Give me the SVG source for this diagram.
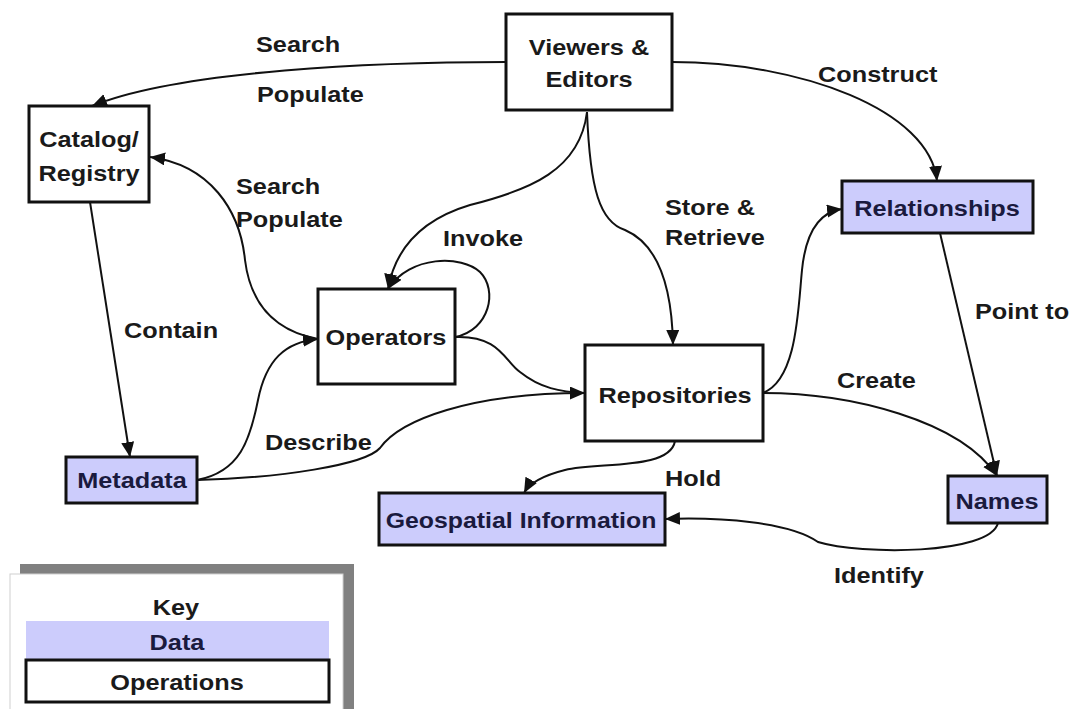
<svg xmlns="http://www.w3.org/2000/svg" width="1073" height="709" viewBox="0 0 1073 709">
<defs>
<style>
.op{fill:#ffffff;stroke:#111;stroke-width:3}
.da{fill:#ccccfc;stroke:#111;stroke-width:3}
.t{font-family:"Liberation Sans",Arial,sans-serif;font-weight:bold;font-size:22px;fill:#1a1a1a}
.tc{text-anchor:middle}
.td{fill:#1a1a3e}
.c{fill:none;stroke:#111;stroke-width:2}
</style>
<marker id="ah" markerUnits="userSpaceOnUse" markerWidth="16" markerHeight="14" refX="15" refY="6.5" orient="auto">
<path d="M0,0 L15,6.5 L0,13 z" fill="#111"/>
</marker>
</defs>
<rect width="1073" height="709" fill="#ffffff"/>

<g id="connectors">
<path class="c" d="M506,62 C380,62 180,70 92,106" marker-end="url(#ah)"/>
<path class="c" d="M672,62 C800,62 930,110 937,181" marker-end="url(#ah)"/>
<path class="c" d="M587,112 C580,170 530,190 470,205 C420,220 395,250 388,289" marker-end="url(#ah)"/>
<path class="c" d="M587,112 C590,190 600,222 625,230 C660,245 672,290 673,345" marker-end="url(#ah)"/>
<path class="c" d="M455,337 C490,330 498,290 480,272 C462,255 410,255 388,289" marker-end="url(#ah)"/>
<path class="c" d="M318,339 C270,330 250,300 245,260 C240,210 210,165 150,157" marker-end="url(#ah)"/>
<path class="c" d="M90,202 L130,457" marker-end="url(#ah)"/>
<path class="c" d="M197,480 C240,472 250,440 258,400 C266,360 285,342 318,339" marker-end="url(#ah)"/>
<path class="c" d="M197,480 C280,478 365,465 380,448 C400,420 470,393 585,393" marker-end="url(#ah)"/>
<path class="c" d="M455,337 C500,335 505,362 520,372 C540,388 560,392 585,393"/>
<path class="c" d="M763,393 C797,380 798,310 802,270 C806,230 820,212 842,209" marker-end="url(#ah)"/>
<path class="c" d="M763,393 C850,393 960,420 997,476" marker-end="url(#ah)"/>
<path class="c" d="M940,233 L997,476" marker-end="url(#ah)"/>
<path class="c" d="M675,441 C670,470 600,462 565,470 C545,475 530,482 524,493" marker-end="url(#ah)"/>
<path class="c" d="M998,523 C990,555 860,555 818,542 C790,522 720,517 665,519" marker-end="url(#ah)"/>
</g>

<g id="labels">
<text class="t" transform="translate(256,52) scale(1.15,1)">Search</text>
<text class="t" transform="translate(257,102) scale(1.15,1)">Populate</text>
<text class="t" transform="translate(818,82) scale(1.15,1)">Construct</text>
<text class="t" transform="translate(236,194) scale(1.15,1)">Search</text>
<text class="t" transform="translate(236,227) scale(1.15,1)">Populate</text>
<text class="t" transform="translate(443,246) scale(1.15,1)">Invoke</text>
<text class="t" transform="translate(665,215) scale(1.15,1)">Store &amp;</text>
<text class="t" transform="translate(665,245) scale(1.15,1)">Retrieve</text>
<text class="t" transform="translate(124,338) scale(1.15,1)">Contain</text>
<text class="t" transform="translate(975,319) scale(1.15,1)">Point to</text>
<text class="t" transform="translate(837,388) scale(1.15,1)">Create</text>
<text class="t" transform="translate(265,450) scale(1.15,1)">Describe</text>
<text class="t" transform="translate(665,486) scale(1.15,1)">Hold</text>
<text class="t" transform="translate(834,583) scale(1.15,1)">Identify</text>
</g>

<g id="viewers">
<rect class="op" x="506" y="14" width="166" height="96"/>
<text class="t tc" transform="translate(589,55) scale(1.15,1)">Viewers &amp;</text>
<text class="t tc" transform="translate(589,87) scale(1.15,1)">Editors</text>
</g>
<g id="catalog">
<rect class="op" x="29" y="106" width="120" height="96"/>
<text class="t tc" transform="translate(89,147) scale(1.15,1)">Catalog/</text>
<text class="t tc" transform="translate(89,181) scale(1.15,1)">Registry</text>
</g>
<g id="relationships">
<rect class="da" x="842" y="181" width="191" height="52"/>
<text class="t tc td" transform="translate(937,216) scale(1.15,1)">Relationships</text>
</g>
<g id="operators">
<rect class="op" x="318" y="289" width="137" height="95"/>
<text class="t tc" transform="translate(386,345) scale(1.15,1)">Operators</text>
</g>
<g id="repositories">
<rect class="op" x="585" y="345" width="178" height="96"/>
<text class="t tc" transform="translate(675,403) scale(1.15,1)">Repositories</text>
</g>
<g id="metadata">
<rect class="da" x="66" y="457" width="131" height="46"/>
<text class="t tc td" transform="translate(132,488) scale(1.15,1)">Metadata</text>
</g>
<g id="geospatial">
<rect class="da" x="379" y="493" width="286" height="52"/>
<text class="t tc td" transform="translate(521,528) scale(1.13,1)">Geospatial Information</text>
</g>
<g id="names">
<rect class="da" x="948" y="476" width="99" height="47"/>
<text class="t tc td" transform="translate(997,509) scale(1.15,1)">Names</text>
</g>

<g id="key">
<rect x="20" y="564" width="334" height="150" fill="#808080"/>
<rect x="10" y="574" width="333" height="140" fill="#ffffff" stroke="#d0d0d0" stroke-width="1"/>
<text class="t tc" transform="translate(176,615) scale(1.15,1)">Key</text>
<rect x="26" y="621" width="303" height="39" fill="#ccccfc"/>
<text class="t tc td" transform="translate(177,650) scale(1.15,1)">Data</text>
<rect class="op" x="26" y="660" width="303" height="42"/>
<text class="t tc" transform="translate(177,690) scale(1.15,1)">Operations</text>
</g>
</svg>
